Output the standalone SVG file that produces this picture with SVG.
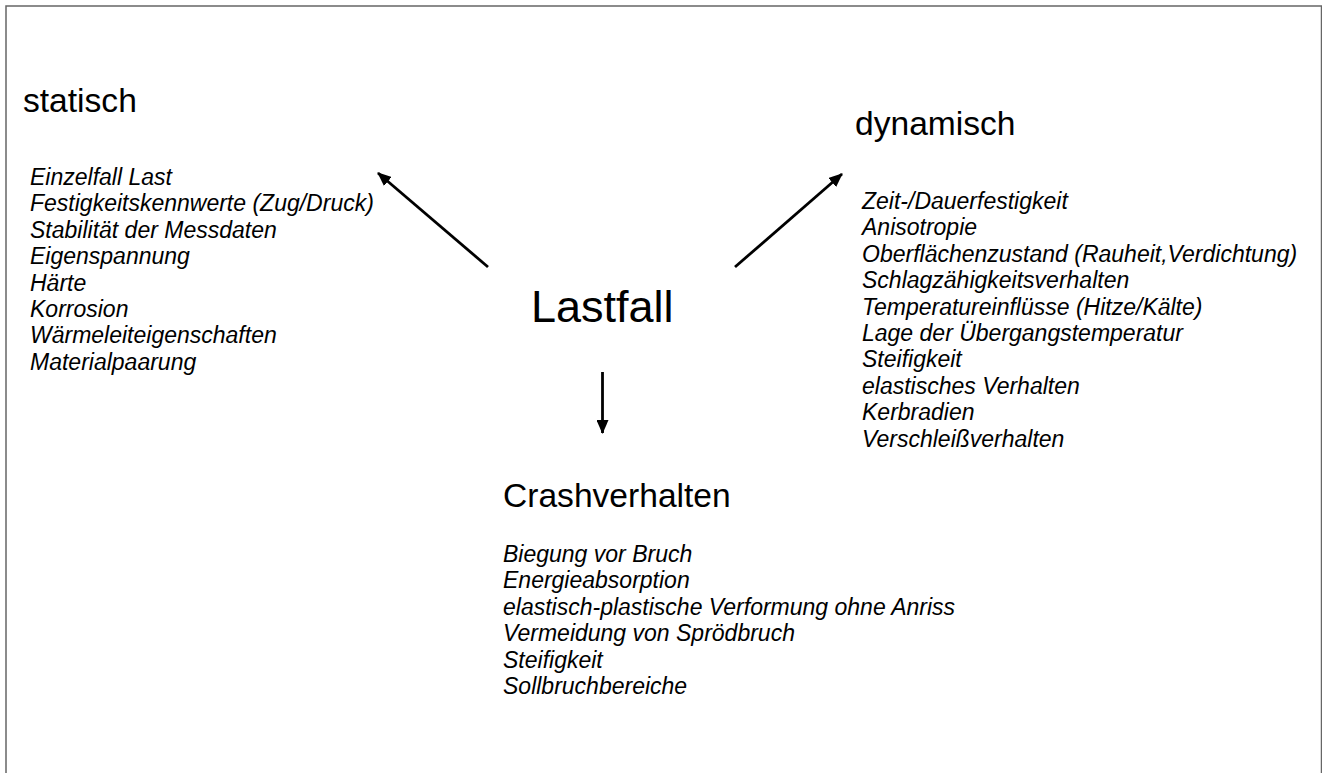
<svg xmlns="http://www.w3.org/2000/svg" width="1322" height="773" viewBox="0 0 1322 773">
<style>
.head{font-family:"Liberation Sans",Arial,sans-serif;font-size:33.6px;fill:#000}
.main{font-family:"Liberation Sans",Arial,sans-serif;font-size:45px;fill:#000}
.item{font-family:"Liberation Sans",Arial,sans-serif;font-size:23px;font-style:italic;fill:#000}
.conn{stroke:#000;stroke-width:2.8;fill:none;marker-end:url(#ah)}
</style>
<defs>
<marker id="ah" markerUnits="userSpaceOnUse" markerWidth="14" markerHeight="12" refX="13" refY="6" orient="auto">
<path d="M0,0 L14,6 L0,12 Z" fill="#000"/>
</marker>
</defs>
<rect x="6" y="6" width="1315.5" height="800" fill="#fff" stroke="#666" stroke-width="1.5"/>
<g id="lastfall">
<text class="main" x="531" y="322">Lastfall</text>
</g>
<g id="statisch">
<text class="head" x="23" y="112">statisch</text>
<text class="item" x="30" y="185">Einzelfall Last</text>
<text class="item" x="30" y="211.4">Festigkeitskennwerte (Zug/Druck)</text>
<text class="item" x="30" y="237.8">Stabilität der Messdaten</text>
<text class="item" x="30" y="264.2">Eigenspannung</text>
<text class="item" x="30" y="290.6">Härte</text>
<text class="item" x="30" y="317">Korrosion</text>
<text class="item" x="30" y="343.4">Wärmeleiteigenschaften</text>
<text class="item" x="30" y="369.8">Materialpaarung</text>
</g>
<g id="dynamisch">
<text class="head" x="855" y="135">dynamisch</text>
<text class="item" x="862" y="209">Zeit-/Dauerfestigkeit</text>
<text class="item" x="862" y="235.4">Anisotropie</text>
<text class="item" x="862" y="261.8">Oberflächenzustand (Rauheit,Verdichtung)</text>
<text class="item" x="862" y="288.2">Schlagzähigkeitsverhalten</text>
<text class="item" x="862" y="314.6">Temperatureinflüsse (Hitze/Kälte)</text>
<text class="item" x="862" y="341">Lage der Übergangstemperatur</text>
<text class="item" x="862" y="367.4">Steifigkeit</text>
<text class="item" x="862" y="393.8">elastisches Verhalten</text>
<text class="item" x="862" y="420.2">Kerbradien</text>
<text class="item" x="862" y="446.6">Verschleißverhalten</text>
</g>
<g id="crashverhalten">
<text class="head" x="503" y="507">Crashverhalten</text>
<text class="item" x="503" y="562">Biegung vor Bruch</text>
<text class="item" x="503" y="588.4">Energieabsorption</text>
<text class="item" x="503" y="614.8">elastisch-plastische Verformung ohne Anriss</text>
<text class="item" x="503" y="641.2">Vermeidung von Sprödbruch</text>
<text class="item" x="503" y="667.6">Steifigkeit</text>
<text class="item" x="503" y="694">Sollbruchbereiche</text>
</g>
<g id="connectors">
<line class="conn" x1="488" y1="267" x2="378" y2="173"/>
<line class="conn" x1="735" y1="267" x2="842" y2="174"/>
<line class="conn" x1="602.5" y1="372" x2="602.5" y2="433"/>
</g>
</svg>
